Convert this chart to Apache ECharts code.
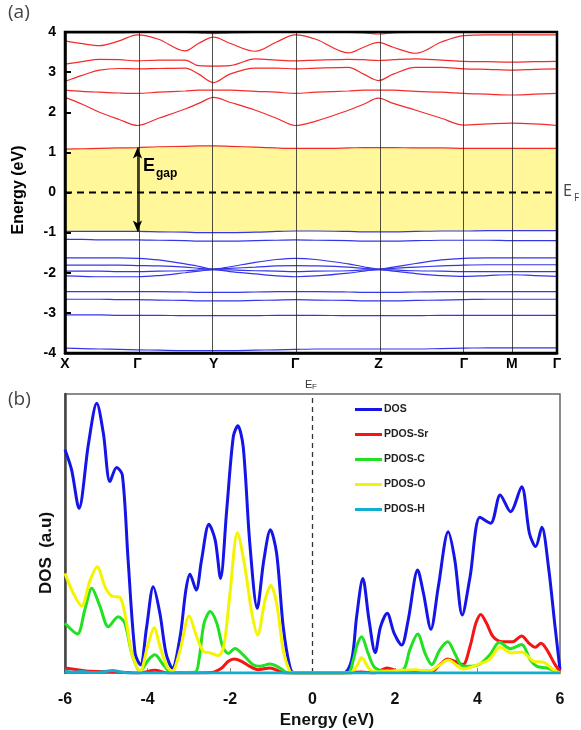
<!DOCTYPE html>
<html><head><meta charset="utf-8">
<script src="https://cdn.jsdelivr.net/npm/echarts@6/dist/echarts.min.js"></script>
<style>html,body{margin:0;padding:0;background:#fff}#c{width:581px;height:730px}</style>
</head><body><div id="c"></div>
<script>
// ---------- (a) band structure ----------
const kPoints = [0, 0.1474, 0.302, 0.468, 0.637, 0.811, 0.908, 1];
const kLabels = ['X', 'Γ', 'Y', 'Γ', 'Z', 'Γ', 'M', 'Γ'];
const kGrid = [0, 0.035, 0.07, 0.11, 0.1474, 0.19, 0.244, 0.272, 0.302, 0.335, 0.387, 0.43, 0.468,
  0.51, 0.576, 0.607, 0.637, 0.667, 0.713, 0.765, 0.811, 0.859, 0.908, 0.954, 1];
const energyTicks = [-4, -3, -2, -1, 0, 1, 2, 3, 4];
const fermiLevel = 0;

const conduction1 = [1.08, 1.09, 1.1, 1.11, 1.12, 1.14, 1.15, 1.16, 1.16, 1.15, 1.13, 1.11, 1.1, 1.1, 1.11, 1.12, 1.12, 1.12, 1.11, 1.11, 1.1, 1.1, 1.1, 1.1, 1.1];
const conduction2 = [2.37, 2.2, 2.0, 1.82, 1.67, 1.85, 2.08, 2.22, 2.37, 2.25, 2.05, 1.85, 1.67, 1.78, 2.05, 2.2, 2.35, 2.22, 2.05, 1.85, 1.68, 1.71, 1.73, 1.71, 1.67];
const conduction3 = [2.55, 2.52, 2.5, 2.48, 2.47, 2.5, 2.53, 2.55, 2.55, 2.55, 2.52, 2.5, 2.47, 2.5, 2.53, 2.55, 2.55, 2.55, 2.52, 2.5, 2.47, 2.45, 2.43, 2.45, 2.47];
const conduction4 = [2.77, 2.92, 3.05, 3.09, 3.08, 3.09, 3.1, 2.95, 2.74, 2.95, 3.1, 3.1, 3.08, 3.1, 3.12, 2.95, 2.79, 2.95, 3.12, 3.12, 3.08, 3.07, 3.05, 3.07, 3.08];
const conduction5 = [3.2, 3.26, 3.32, 3.31, 3.28, 3.3, 3.3, 3.16, 3.15, 3.16, 3.33, 3.3, 3.28, 3.3, 3.32, 3.31, 3.29, 3.31, 3.33, 3.3, 3.27, 3.26, 3.25, 3.26, 3.27];
const conduction6 = [3.78, 3.71, 3.66, 3.78, 3.93, 3.82, 3.53, 3.72, 3.87, 3.72, 3.52, 3.75, 3.93, 3.82, 3.48, 3.62, 3.74, 3.62, 3.47, 3.75, 3.91, 3.93, 3.93, 3.93, 3.93];
const conduction7 = [3.98, 3.98, 3.98, 3.98, 3.99, 3.99, 3.99, 3.98, 3.96, 3.98, 3.99, 3.99, 3.99, 3.99, 3.99, 3.98, 3.95, 3.98, 3.99, 3.99, 3.99, 3.99, 3.99, 3.99, 3.99];

const valence1 = [-0.97, -0.97, -0.97, -0.97, -0.97, -0.98, -0.99, -1.0, -1.0, -1.0, -0.99, -0.97, -0.96, -0.96, -0.97, -0.98, -0.98, -0.98, -0.97, -0.96, -0.96, -0.95, -0.95, -0.95, -0.95];
const valence2 = [-1.17, -1.17, -1.18, -1.18, -1.18, -1.19, -1.2, -1.21, -1.21, -1.21, -1.2, -1.19, -1.18, -1.19, -1.2, -1.21, -1.21, -1.21, -1.2, -1.19, -1.19, -1.19, -1.2, -1.2, -1.2];
const valence3 = [-1.63, -1.63, -1.63, -1.63, -1.64, -1.68, -1.78, -1.84, -1.91, -1.85, -1.74, -1.67, -1.64, -1.67, -1.78, -1.85, -1.91, -1.86, -1.77, -1.68, -1.64, -1.63, -1.63, -1.63, -1.63];
const valence4 = [-1.81, -1.81, -1.81, -1.81, -1.82, -1.83, -1.86, -1.89, -1.91, -1.89, -1.86, -1.83, -1.82, -1.83, -1.86, -1.89, -1.91, -1.89, -1.86, -1.83, -1.81, -1.8, -1.8, -1.8, -1.8];
const valence5 = [-1.96, -1.96, -1.96, -1.97, -1.97, -1.96, -1.95, -1.93, -1.92, -1.93, -1.95, -1.96, -1.97, -1.96, -1.95, -1.93, -1.92, -1.93, -1.95, -1.96, -1.97, -1.97, -1.97, -1.97, -1.97];
const valence6 = [-2.08, -2.09, -2.1, -2.1, -2.1, -2.07, -2.0, -1.96, -1.92, -1.97, -2.03, -2.08, -2.1, -2.08, -2.01, -1.96, -1.92, -1.96, -2.02, -2.07, -2.09, -2.07, -2.05, -2.07, -2.09];
const valence7 = [-2.47, -2.47, -2.47, -2.47, -2.47, -2.47, -2.48, -2.49, -2.49, -2.49, -2.48, -2.47, -2.47, -2.47, -2.48, -2.49, -2.49, -2.49, -2.48, -2.47, -2.47, -2.47, -2.47, -2.47, -2.47];
const valence8 = [-2.66, -2.66, -2.66, -2.67, -2.67, -2.68, -2.69, -2.7, -2.7, -2.7, -2.69, -2.68, -2.67, -2.68, -2.69, -2.7, -2.7, -2.7, -2.69, -2.68, -2.67, -2.66, -2.66, -2.66, -2.66];
const valence9 = [-3.05, -3.05, -3.05, -3.06, -3.06, -3.06, -3.07, -3.07, -3.07, -3.07, -3.07, -3.06, -3.06, -3.06, -3.07, -3.07, -3.07, -3.07, -3.07, -3.06, -3.06, -3.06, -3.06, -3.06, -3.06];
const valence10 = [-3.88, -3.89, -3.9, -3.91, -3.92, -3.93, -3.94, -3.94, -3.94, -3.94, -3.93, -3.92, -3.91, -3.9, -3.9, -3.9, -3.9, -3.9, -3.9, -3.89, -3.88, -3.87, -3.87, -3.87, -3.87];

// ---------- (b) DOS ----------
const dosTicks = [-6, -4, -2, 0, 2, 4, 6];
const dosRange = [0, 100];
const legendNames = ['DOS', 'PDOS-Sr', 'PDOS-C', 'PDOS-O', 'PDOS-H'];
const dosTotal = [[-6.0,80],[-5.84,72.8],[-5.66,59],[-5.43,82.3],[-5.23,96.7],[-5.07,85.9],[-4.91,68.6],[-4.75,73.7],[-4.61,71],[-4.47,40.5],[-4.3,7],[-4.17,2.9],[-4.02,16.6],[-3.86,30.9],[-3.7,21.4],[-3.55,7],[-3.4,1.7],[-3.21,13],[-3.07,29.7],[-2.97,35.4],[-2.82,29.7],[-2.69,40.5],[-2.51,53.3],[-2.36,47.7],[-2.23,33.9],[-2.08,58.4],[-1.92,84.7],[-1.81,88.6],[-1.68,81.1],[-1.52,46.5],[-1.34,23.2],[-1.18,40.5],[-1.02,51.3],[-0.87,42.9],[-0.71,16.6],[-0.55,2.3],[-0.44,0],[0.75,0],[0.95,4.7],[1.07,20.2],[1.22,33.9],[1.37,19],[1.52,7.3],[1.65,16.6],[1.81,21.4],[1.98,14.2],[2.16,10],[2.32,19],[2.55,36.9],[2.69,28.6],[2.87,15.7],[3.05,30.9],[3.29,50.6],[3.45,40.5],[3.63,20.8],[3.82,34.5],[4.06,55.8],[4.32,53.7],[4.55,63.8],[4.8,57.8],[5.07,66.8],[5.26,50],[5.41,45.3],[5.56,52.2],[5.72,38.1],[5.88,16.6],[6.0,1.2]];
const pdosSr = [[-6,1.8],[-5.7,1.2],[-5.4,0.6],[-4.9,0.5],[-4.5,0.2],[-4.2,0],[-3.82,1],[-3.5,0],[-2.44,0.2],[-2.2,1.8],[-2.04,4.2],[-1.9,5],[-1.72,4.2],[-1.52,2.4],[-1.32,1.2],[-1.03,1.8],[-0.8,0.6],[-0.63,0],[0.9,0],[1.0,0.2],[1.19,0.4],[1.5,0],[1.81,1.8],[2.05,0.8],[2.25,0.2],[2.52,0.6],[2.9,0.6],[3.09,3],[3.28,5],[3.45,4.2],[3.65,3],[3.82,9.6],[3.96,17.8],[4.08,21],[4.22,17.8],[4.38,13],[4.6,11.2],[4.85,11.2],[5.07,13.3],[5.26,10.5],[5.4,9.2],[5.54,10.7],[5.68,8.4],[5.88,3],[6,0.6]];
const pdosC = [[-6,17.8],[-5.7,14],[-5.52,22.6],[-5.35,30.4],[-5.15,23.8],[-4.95,16.6],[-4.71,20.2],[-4.55,17.8],[-4.38,7],[-4.18,0.6],[-3.98,4.7],[-3.82,6.5],[-3.62,3],[-3.42,0.2],[-2.85,0.3],[-2.75,5],[-2.63,17.8],[-2.48,22],[-2.32,17.8],[-2.18,9.6],[-2.04,7],[-1.88,8.8],[-1.68,6.5],[-1.44,3],[-1.28,2.4],[-1.03,3.2],[-0.79,1.8],[-0.63,0.2],[-0.5,0],[0.85,0],[0.99,4.7],[1.07,9.6],[1.19,13],[1.35,7],[1.52,1.8],[1.88,0.6],[2.2,1.2],[2.36,8.4],[2.55,14],[2.73,7],[2.89,3],[3.09,8.4],[3.28,11.2],[3.45,7],[3.63,2.6],[3.86,2.4],[4.06,3.2],[4.3,6.5],[4.53,11],[4.8,8.7],[5.07,10.2],[5.28,4.7],[5.44,2.4],[5.68,1.8],[5.92,0.6],[6,0]];
const pdosO = [[-6,35.7],[-5.8,28.6],[-5.6,24],[-5.39,33.3],[-5.22,38.1],[-5.03,30.9],[-4.87,27.6],[-4.67,27.1],[-4.55,21.4],[-4.38,7],[-4.18,0.6],[-3.98,10.6],[-3.84,16.2],[-3.7,9.6],[-3.53,2.4],[-3.4,0.6],[-3.21,8.2],[-2.99,20.4],[-2.81,13.1],[-2.65,7.8],[-2.48,7.2],[-2.28,6.2],[-2.15,9.6],[-2.0,28.6],[-1.82,50.3],[-1.64,38.1],[-1.47,21.4],[-1.33,13.6],[-1.15,26.2],[-1.01,31.4],[-0.87,25],[-0.71,8.2],[-0.55,0.6],[-0.45,0],[0.9,0],[1.07,2.4],[1.19,5.5],[1.39,1.2],[1.55,0.4],[2.0,0.8],[2.5,1.2],[2.8,0.5],[3.05,2.5],[3.29,4.7],[3.65,1.4],[4.06,3.3],[4.3,5],[4.55,9.2],[4.82,7.2],[5.07,7.5],[5.36,4.2],[5.61,3.8],[5.84,1.2],[6,0]];
const pdosH = [[-6,0.6],[-5.85,0.3],[-5.6,0.5],[-5.4,0.2],[-5.1,0.4],[-4.85,0.9],[-4.65,0.4],[-4.4,0],[6,0]];

const FONT = '"Liberation Sans", Arial, sans-serif';
const conductionBands = [conduction1, conduction2, conduction3, conduction4, conduction5, conduction6, conduction7];
const valenceBands = [valence1, valence2, valence3, valence4, valence5, valence6, valence7, valence8, valence9, valence10];

const series = [];
series.push({
  type: 'line', xAxisIndex: 0, yAxisIndex: 0, smooth: 0.35, showSymbol: false, silent: true, z: 1,
  data: kGrid.map((k, i) => [k, conduction1[i]]), lineStyle: { opacity: 0 },
  areaStyle: { color: '#fff799', opacity: 1, origin: 'start' }
});
series.push({
  type: 'line', xAxisIndex: 0, yAxisIndex: 0, smooth: 0.35, showSymbol: false, silent: true, z: 2,
  data: kGrid.map((k, i) => [k, valence1[i]]), lineStyle: { opacity: 0 },
  areaStyle: { color: '#ffffff', opacity: 1, origin: 'start' },
  markLine: {
    silent: true, symbol: ['none', 'none'], label: { show: false }, z: 6,
    data: [
      ...kPoints.slice(1, -1).map(k => ({ xAxis: k, lineStyle: { color: '#222', width: 0.8, type: 'solid' } })),
      [ { coord: [kPoints[1], conduction1[4]], symbol: 'arrow', symbolSize: [7, 11] },
        { coord: [kPoints[1], valence1[4]], symbol: 'arrow', symbolSize: [7, 11], lineStyle: { color: '#000', width: 1.5, type: 'solid' } } ]
    ]
  }
});
// Fermi level, dashed
series.push({
  type: 'line', xAxisIndex: 0, yAxisIndex: 0, showSymbol: false, silent: true, z: 7,
  data: [[kPoints[0], fermiLevel], [kPoints[kPoints.length - 1], fermiLevel]],
  lineStyle: { color: '#000', width: 2.2, type: [7, 5] }
});
conductionBands.forEach(b => series.push({
  type: 'line', xAxisIndex: 0, yAxisIndex: 0, smooth: 0.35, showSymbol: false, silent: true, z: 3,
  data: kGrid.map((k, i) => [k, b[i]]), lineStyle: { color: '#f42a2a', width: 1.2 }
}));
valenceBands.forEach(b => series.push({
  type: 'line', xAxisIndex: 0, yAxisIndex: 0, smooth: 0.35, showSymbol: false, silent: true, z: 3,
  data: kGrid.map((k, i) => [k, b[i]]), lineStyle: { color: '#3535ea', width: 1.2 }
}));

// DOS Fermi line, dashed
series.push({
  type: 'line', xAxisIndex: 1, yAxisIndex: 1, showSymbol: false, silent: true, z: 2,
  data: [[fermiLevel, dosRange[0]], [fermiLevel, dosRange[1]]],
  lineStyle: { color: '#333', width: 1.3, type: [5, 4] }
});
const dosSets = [dosTotal, pdosSr, pdosC, pdosO, pdosH];
const dosColors = ['#1515e8', '#f51515', '#22e022', '#f4f400', '#12aed2'];
dosSets.forEach((d, i) => series.push({
  name: legendNames[i], type: 'line', xAxisIndex: 1, yAxisIndex: 1, smooth: 0.3, showSymbol: false, silent: true,
  data: d, color: dosColors[i], lineStyle: { color: dosColors[i], width: 3 }, z: 3 + i
}));

const chart = echarts.init(document.getElementById('c'), null, { renderer: 'canvas' });
chart.setOption({
  animation: false,
  backgroundColor: '#fff',
  grid: [
    { left: 65, top: 32, width: 492, height: 321, containLabel: false, outerBoundsMode: 'none', show: true, borderColor: '#000', borderWidth: 2.5, z: 10 },
    { left: 65, top: 394, width: 495, height: 279, containLabel: false, outerBoundsMode: 'none', show: true, borderColor: '#666', borderWidth: 1.5 }
  ],
  xAxis: [
    { type: 'value', gridIndex: 0, min: 0, max: 1, z: 10, position: 'bottom',
      axisLine: { show: true, onZero: false, lineStyle: { color: '#000', width: 2.5 } },
      axisTick: { show: false }, splitLine: { show: false },
      axisLabel: { customValues: kPoints, showMinLabel: true, showMaxLabel: true, margin: 4, color: '#000', fontSize: 14, fontWeight: 'bold', fontFamily: FONT,
        formatter: v => { const i = kPoints.findIndex(p => Math.abs(p - v) < 1e-6); return i >= 0 ? kLabels[i] : ''; } } },
    { type: 'value', gridIndex: 1, min: -6, max: 6, interval: 2, position: 'bottom',
      axisLine: { show: true, onZero: false, lineStyle: { color: '#777', width: 1.5 } },
      axisTick: { show: true, inside: true, length: 5, lineStyle: { color: '#888' } }, splitLine: { show: false },
      axisLabel: { showMinLabel: true, showMaxLabel: true, margin: 19, color: '#111', fontSize: 16, fontWeight: 'bold', fontFamily: FONT,
        formatter: v => dosTicks.includes(v) ? String(v) : '' } }
  ],
  yAxis: [
    { type: 'value', gridIndex: 0, min: -4, max: 4, interval: 1, z: 10, position: 'left',
      axisLine: { show: true, onZero: false, lineStyle: { color: '#000', width: 2.5 } },
      axisTick: { show: true, inside: true, length: 6, lineStyle: { color: '#000', width: 2 } }, splitLine: { show: false },
      axisLabel: { margin: 9, color: '#000', fontSize: 14, fontWeight: 'bold', fontFamily: FONT,
        formatter: v => energyTicks.includes(v) ? String(v) : '' } },
    { type: 'value', gridIndex: 1, min: dosRange[0], max: dosRange[1], position: 'left',
      axisLine: { show: true, onZero: false, lineStyle: { color: '#444', width: 2.5 } },
      axisTick: { show: false }, axisLabel: { show: false }, splitLine: { show: false } }
  ],
  legend: {
    orient: 'vertical', left: 350, top: 399, itemWidth: 27, itemHeight: 3, itemGap: 14, icon: 'rect',
    data: legendNames, selectedMode: false,
    textStyle: { fontSize: 10.5, fontWeight: 'bold', color: '#222', fontFamily: FONT, padding: [0, 0, 0, -3] }
  },
  graphic: [
    { type: 'text', z: 100, x: 8, y: 3, style: { text: '(a)', fontSize: 19, fill: '#444', fontFamily: '"Open Sans", sans-serif' } },
    { type: 'text', z: 100, x: 8, y: 390, style: { text: '(b)', fontSize: 19, fill: '#444', fontFamily: '"Open Sans", sans-serif' } },
    { type: 'text', z: 100, x: 19, y: 190, rotation: Math.PI / 2, style: { text: 'Energy (eV)', fontSize: 16, fontWeight: 'bold', fill: '#000', fontFamily: FONT, align: 'center', verticalAlign: 'middle' } },
    { type: 'text', z: 100, x: 46, y: 553, rotation: Math.PI / 2, style: { text: 'DOS  (a.u)', fontSize: 17, fontWeight: 'bold', fill: '#111', fontFamily: FONT, align: 'center', verticalAlign: 'middle' } },
    { type: 'text', z: 100, x: 327, y: 720, style: { text: 'Energy (eV)', fontSize: 17, fontWeight: 'bold', fill: '#111', fontFamily: FONT, align: 'center', verticalAlign: 'middle' } },
    { type: 'text', z: 100, x: 143, y: 157, style: { text: 'E', fontSize: 18, fontWeight: 'bold', fill: '#000', fontFamily: FONT } },
    { type: 'text', z: 100, x: 156, y: 168, style: { text: 'gap', fontSize: 12, fontWeight: 'bold', fill: '#000', fontFamily: FONT } },
    { type: 'text', z: 100, x: 563, y: 183, style: { text: 'E', fontSize: 16, fill: '#444', fontFamily: '"Open Sans", sans-serif' } },
    { type: 'text', z: 100, x: 574, y: 193, style: { text: 'F', fontSize: 10, fill: '#444', fontFamily: '"Open Sans", sans-serif' } },
    { type: 'text', z: 100, x: 305, y: 379, style: { text: 'E', fontSize: 11, fill: '#333', fontFamily: FONT } },
    { type: 'text', z: 100, x: 312, y: 383, style: { text: 'F', fontSize: 8, fill: '#333', fontFamily: FONT } }
  ],
  series: series
});
</script></body></html>
